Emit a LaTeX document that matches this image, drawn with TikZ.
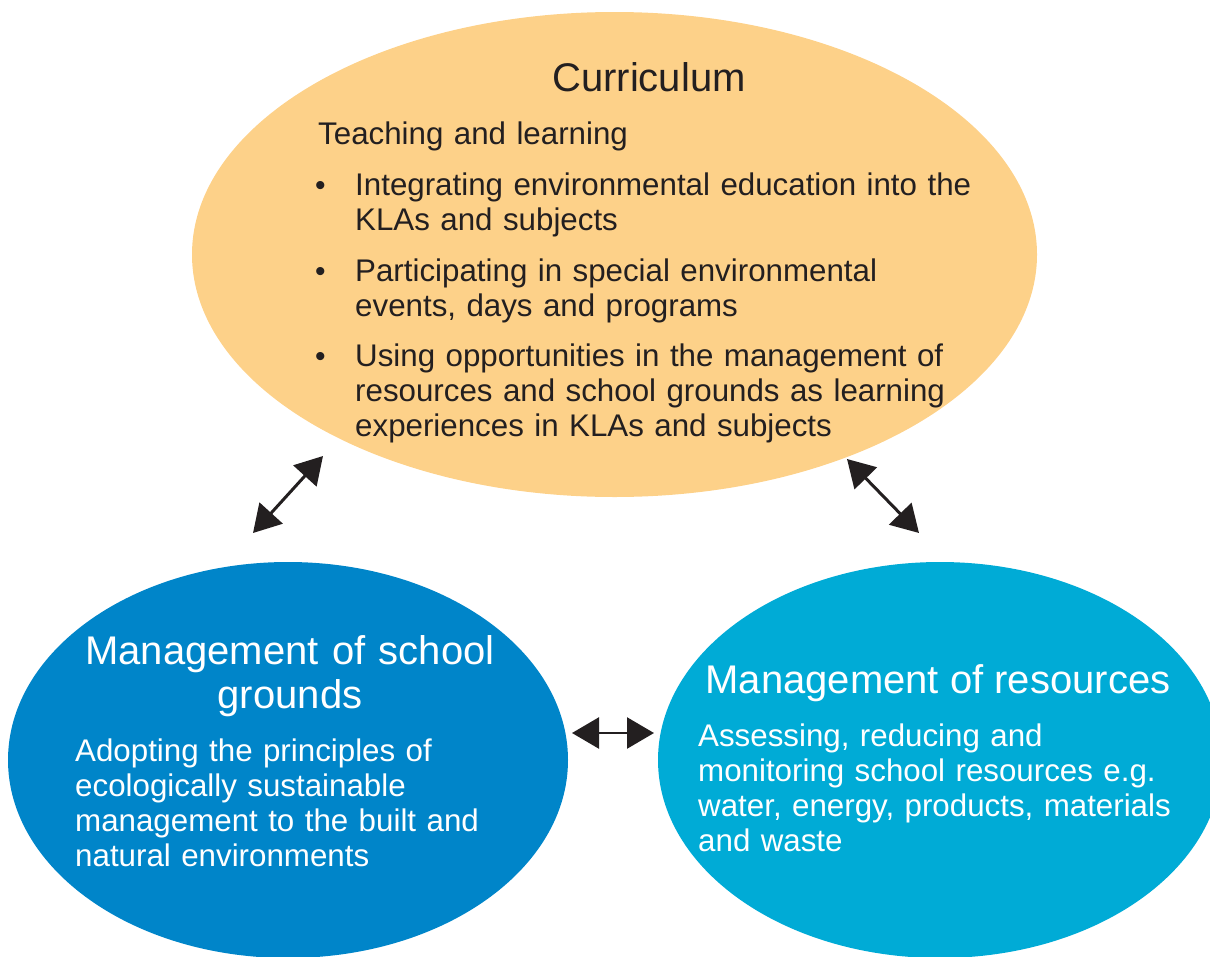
\documentclass[tikz,border=0pt]{standalone}
\usepackage{fontspec}
\setmainfont{Liberation Sans}
\usetikzlibrary{arrows.meta,shapes.geometric}
\definecolor{curr}{HTML}{FDD189}
\definecolor{grnd}{HTML}{0085C9}
\definecolor{res}{HTML}{00ABD6}
\definecolor{ink}{HTML}{231F20}
\tikzset{
  blob/.style={ellipse, draw=none, inner sep=0pt},
  bodytext/.style={font=\fontsize{31.3}{35}\selectfont, inner sep=0pt, anchor=base west, align=left},
  titletext/.style={font=\fontsize{40}{44}\selectfont, inner sep=0pt, anchor=base, align=center},
  bulletmark/.style={font=\fontsize{30}{35}\selectfont, inner sep=0pt, anchor=base west, text=ink},
  link/.style={draw=ink, line width=3pt, {Triangle[length=27pt,width=31pt]}-{Triangle[length=27pt,width=31pt]}},
}
\begin{document}
\begin{tikzpicture}[x=1pt,y=-1pt]
\useasboundingbox (0,0) rectangle (1210,956);
\begin{scope}
\clip (0,0) rectangle (1210,956);
\node[blob, fill=curr, minimum width=845pt, minimum height=485pt] (curriculum) at (614.5,254.5) {};
\node[blob, fill=grnd, minimum width=560pt, minimum height=396pt] (grounds) at (288,760) {};
\node[blob, fill=res, minimum width=564pt, minimum height=396pt] (resources) at (940,760) {};
\end{scope}

% Curriculum text
\node[titletext, text=ink] (ctitle) at (649,91) {Curriculum};
\node[bodytext, text=ink, text width=700pt] (cteach) at (318,144) {Teaching and learning};
\node[bulletmark] (b1) at (315,195) {•};
\node[bodytext, text=ink, text width=700pt] (i1) at (355,195) {Integrating environmental education into the\\KLAs and subjects};
\node[bulletmark] (b2) at (315,281) {•};
\node[bodytext, text=ink, text width=700pt] (i2) at (355,281) {Participating in special environmental\\events, days and programs};
\node[bulletmark] (b3) at (315,366) {•};
\node[bodytext, text=ink, text width=700pt] (i3) at (355,366) {Using opportunities in the management of\\resources and school grounds as learning\\experiences in KLAs and subjects};

% Grounds text
\node[titletext, text=white, text width=520pt] (gtitle) at (290,664) {Management of school\\grounds};
\node[bodytext, text=white, text width=480pt] (gbody) at (75,761) {Adopting the principles of\\ecologically sustainable\\management to the built and\\natural environments};

% Resources text
\node[titletext, text=white] (rtitle) at (938,693) {Management of resources};
\node[bodytext, text=white, text width=500pt] (rbody) at (698,746) {Assessing, reducing and\\monitoring school resources e.g.\\water, energy, products, materials\\and waste};

% connectors
\coordinate (cl) at (323,456);
\coordinate (gl) at (253,533);
\coordinate (cr) at (847,459);
\coordinate (rr) at (919,533);
\coordinate (gh) at (572,733);
\coordinate (rh) at (654,733);
\draw[link] (gl) -- (cl);
\draw[link] (cr) -- (rr);
\draw[link, line width=2.5pt] (gh) -- (rh);
\end{tikzpicture}
\end{document}
